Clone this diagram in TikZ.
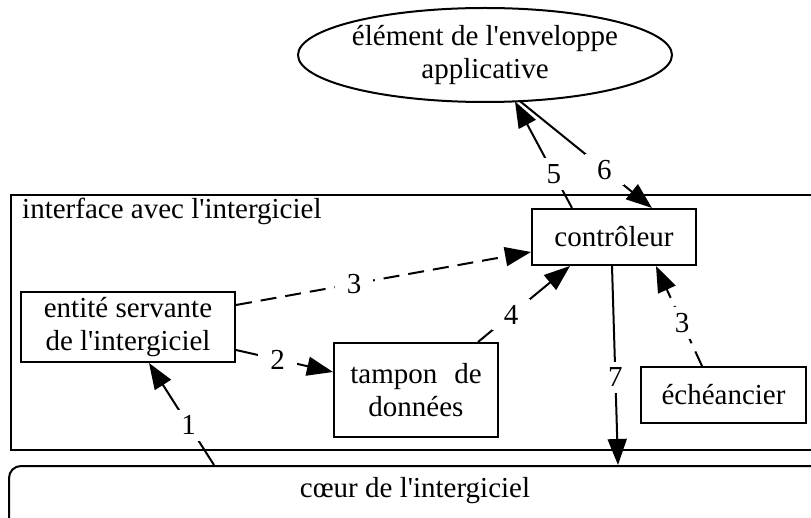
\documentclass[tikz,border=0pt]{standalone}
\usepackage{fontspec}
\setmainfont{Liberation Serif}
\usetikzlibrary{arrows.meta,calc,shapes.geometric}
\newcommand{\ap}{\textquotesingle}

\begin{document}
\begin{tikzpicture}[x=1pt,y=-1pt,
  every node/.style={font=\fontsize{29}{33}\selectfont},
  box/.style={draw, line width=2pt, align=center, inner sep=0pt},
  link/.style={line width=2pt, -{Triangle[length=26pt,width=19pt]}},
  dashlink/.style={link, dash pattern=on 16pt off 9pt},
  lbl/.style={fill=white, inner xsep=12pt, inner ysep=6pt}]

\useasboundingbox (0,0) rectangle (811,518);
\clip (0,0) rectangle (811,518);

% application-side element
\node[draw, ellipse, line width=2pt, minimum width=374pt, minimum height=94pt, inner sep=0pt] (app) at (485,55) {};
\node[align=center] (apptxt) at (app.center) {élément de l\ap enveloppe\\applicative};

% middleware interface frame and middleware core
\node[draw, line width=2pt, minimum width=830pt, minimum height=255pt, inner sep=0pt, anchor=north west] (iface) at (10,194) {};
\node[anchor=base west, inner sep=0pt] (ifacelbl) at (22,219) {interface avec l\ap intergiciel};
\node[draw, line width=2pt, rounded corners=12pt, minimum width=814pt, minimum height=90pt, inner sep=0pt, anchor=north west] (core) at (8,465) {};
\node (coretxt) at (415,491) {cœur de l\ap intergiciel};

% inner components
\node[box, minimum width=164pt, minimum height=56pt] (ctrl) at (614,237) {contrôleur};
\node[box, minimum width=214pt, minimum height=70pt] (ent) at (128,327) {entité servante\\de l\ap intergiciel};
\node[box, minimum width=164pt, minimum height=94pt] (tamp) at (416,390) {tampon\hspace{17pt}de\\données};
\node[box, minimum width=165pt, minimum height=56pt] (ech) at (723.5,395) {échéancier};

% numbered interactions
\draw[link] ($(core.north west)+(206,0)$) -- node[lbl,pos=0.39] (l1) {1} ($(ent.south west)+(129,0)$);
\draw[link] ($(ent.east)+(0,23)$) -- node[lbl,pos=0.43] (l2) {2} ($(tamp.west)+(0,-18)$);
\draw[dashlink] ($(ent.north east)+(0,14)$) -- node[lbl,pos=0.40] (l3) {3} ($(ctrl.west)+(0,15)$);
\draw[link] ($(tamp.north east)+(-21,0)$) -- node[lbl,pos=0.36] (l4) {4} ($(ctrl.south west)+(39,0)$);
\draw[dashlink] ($(ech.north west)+(62,0)$) -- node[lbl,pos=0.43] (l3b) {3} ($(ctrl.south west)+(125,0)$);
\draw[link] ($(ctrl.south west)+(81,0)$) -- node[lbl,pos=0.56] (l7) {7} ($(core.north west)+(610,0)$);
\draw[link] ($(ctrl.north west)+(41,0)$) -- node[lbl,pos=0.32] (l5) {5} ($(app.center)+(30,46.5)$);
\draw[link] ($(app.center)+(35,46.2)$) -- node[lbl,pos=0.64] (l6) {6} ($(ctrl.north west)+(121,0)$);

\end{tikzpicture}
\end{document}
